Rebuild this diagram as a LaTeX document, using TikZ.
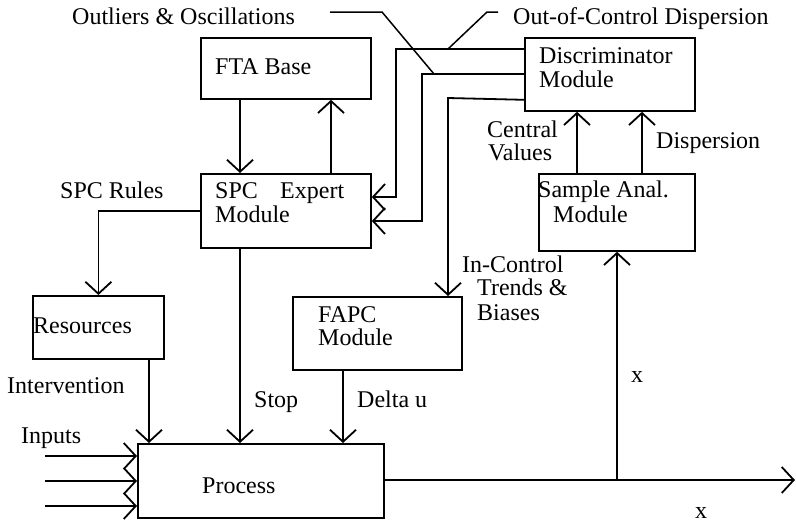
\documentclass[tikz,border=0pt]{standalone}
\usepackage{fontspec}
\setmainfont{Liberation Serif}
\usetikzlibrary{arrows.meta}
\begin{document}
\begin{tikzpicture}[x=1pt,y=-1pt,
  box/.style={draw,line width=1.8pt,anchor=north west,inner sep=0pt},
  lbl/.style={anchor=base west,inner sep=0pt,font=\fontsize{24}{23}\selectfont},
  wire/.style={line width=1.8pt},
  arr/.style={wire,-{Straight Barb[length=12pt,width=26pt,line width=1.8pt]}},
  leader/.style={line width=1.5pt}]
\useasboundingbox (0,0) rectangle (796,523);

% blocks
\node[box,minimum width=170pt,minimum height=61pt] (fta) at (200,37) {};
\node[box,minimum width=170pt,minimum height=74pt] (spc) at (200,173) {};
\node[box,minimum width=170pt,minimum height=73pt] (disc) at (524,37) {};
\node[box,minimum width=156pt,minimum height=77pt] (samp) at (538,173) {};
\node[box,minimum width=169pt,minimum height=73pt] (fapc) at (292,296) {};
\node[box,minimum width=131pt,minimum height=63pt] (res) at (32,295) {};
\node[box,minimum width=246pt,minimum height=74pt] (proc) at (137,443) {};

% block texts
\node[lbl] (tfta) at (215,74) {FTA Base};
\node[lbl] (tspc1) at (215,198) {SPC};
\node[lbl] (tspc2) at (280,198) {Expert};
\node[lbl] (tspc3) at (215,222) {Module};
\node[lbl] (tdisc1) at (539,63) {Discriminator};
\node[lbl] (tdisc2) at (539,87) {Module};
\node[lbl] (tsamp1) at (538,197) {Sample Anal.};
\node[lbl] (tsamp2) at (553,222) {Module};
\node[lbl] (tfapc1) at (318,322) {FAPC};
\node[lbl] (tfapc2) at (318,345) {Module};
\node[lbl] (tres) at (33,333) {Resources};
\node[lbl] (tproc) at (202,493) {Process};

% signal labels
\node[lbl] (loutl) at (72,24) {Outliers \& Oscillations};
\node[lbl] (lood) at (513,24) {Out-of-Control Dispersion};
\node[lbl] (lcv1) at (487,137) {Central};
\node[lbl] (lcv2) at (488,160) {Values};
\node[lbl] (ldisp) at (656,148) {Dispersion};
\node[lbl] (lspcr) at (60,198) {SPC Rules};
\node[lbl] (lic1) at (462,272) {In-Control};
\node[lbl] (lic2) at (477,295) {Trends \&};
\node[lbl] (lic3) at (477,320) {Biases};
\node[lbl] (lint) at (7,393) {Intervention};
\node[lbl] (lstop) at (254,407) {Stop};
\node[lbl] (ldu) at (357,407) {Delta u};
\node[lbl] (linp) at (21,443) {Inputs};
\node[lbl] (lx1) at (631,382) {x};
\node[lbl] (lx2) at (695,518) {x};

% FTA base <-> SPC expert module
\draw[arr] ([xshift=40pt]fta.south west) -- ([xshift=40pt]spc.north west);
\draw[arr] ([xshift=131pt]spc.north west) -- ([xshift=131pt]fta.south west);

% discriminator outputs
\coordinate (k1) at (396,197);
\coordinate (k2) at (422,221);
\coordinate (k3) at (448,98);
\draw[arr] ([yshift=-12pt]disc.north west) -| (k1) -- (spc.east |- k1);
\draw[arr] ([yshift=-37pt]disc.north west) -| (k2) -- (spc.east |- k2);
\draw[arr] ([yshift=12pt]disc.south west) -- (k3) -- (k3 |- fapc.north);

% label leaders
\coordinate (o1) at (330,12);
\coordinate (o2) at (382,12);
\coordinate (o3) at (434,74);
\draw[leader] (o1) -- (o2) -- (o3);
\coordinate (d1) at (498,12);
\coordinate (d2) at (487,12);
\coordinate (d3) at (448,49);
\draw[leader] (d1) -- (d2) -- (d3);

% sample analysis -> discriminator
\draw[arr] ([xshift=39pt]samp.north west) -- ([xshift=53pt]disc.south west);
\draw[arr] ([xshift=104pt]samp.north west) -- ([xshift=118pt]disc.south west);

% SPC rules -> resources
\draw[arr] (spc.west) -| (res.north);

% actions into the process
\draw[arr,line width=1.5pt] ([xshift=117pt]res.south west) -- ([xshift=12pt]proc.north west);
\draw[arr] ([xshift=40pt]spc.south west) -- ([xshift=103pt]proc.north west);
\draw[arr] ([xshift=51pt]fapc.south west) -- ([xshift=206pt]proc.north west);

% inputs
\coordinate (i1) at (45,456);
\coordinate (i2) at (45,481);
\coordinate (i3) at (45,506);
\draw[arr] (i1) -- (proc.west |- i1);
\draw[arr] (i2) -- (proc.west |- i2);
\draw[arr] (i3) -- (proc.west |- i3);

% process output and sampling branch
\coordinate (br) at (617,480);
\coordinate (out) at (795,480);
\draw[arr] (proc.east |- br) -- (out);
\draw[arr] (br) -- (br |- samp.south);
\end{tikzpicture}
\end{document}
